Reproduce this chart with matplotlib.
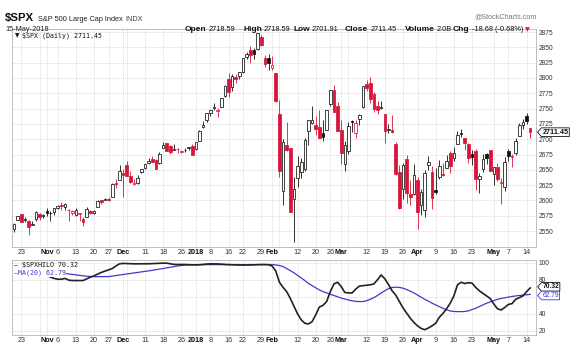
import numpy as np
import pandas as pd
import matplotlib
matplotlib.use('Agg')
import matplotlib.pyplot as plt
from matplotlib.path import Path
from matplotlib.transforms import blended_transform_factory

plt.rcParams['font.family'] = ['Liberation Sans', 'DejaVu Sans']

# ---------------- data ----------------
holidays = ['2017-11-23', '2017-12-25', '2018-01-01', '2018-01-15', '2018-02-19', '2018-03-30']
days = pd.bdate_range('2017-10-19', '2018-05-15')
days = days[~days.isin(pd.to_datetime(holidays))]

prev_close = 2561.26
opens = [2553.4, 2567.6, 2578.1, 2568.7, 2566.5, 2560.1, 2570.3, 2577.8, 2575.0,
         2583.2, 2579.5, 2581.9, 2587.5, 2592.1, 2588.7, 2584.0, 2580.2, 2576.5, 2577.8,
         2569.4, 2572.9, 2582.9, 2579.5, 2589.2, 2600.3, 2600.4, 2602.7, 2605.9, 2627.8, 2633.9,
         2645.1, 2657.2, 2639.8, 2626.2, 2628.4, 2646.2, 2652.2, 2661.7, 2667.6, 2665.9,
         2660.6, 2685.9, 2694.0, 2688.2, 2683.0, 2684.2, 2679.1, 2682.1, 2686.1, 2689.1,
         2683.7, 2697.9, 2719.3, 2731.3, 2742.7, 2751.2, 2745.6, 2753.0, 2770.2, 2799.0,
         2785.0, 2802.4, 2802.6, 2809.2, 2835.0, 2845.4, 2846.2, 2847.5, 2867.2, 2832.7,
         2832.4, 2816.5, 2808.9, 2741.1, 2614.8, 2691.0, 2685.0, 2601.8, 2636.7, 2646.3,
         2651.2, 2713.5, 2727.1, 2723.0, 2720.5, 2710.4, 2715.8, 2757.4, 2780.5, 2753.8,
         2715.2, 2658.9, 2681.1, 2730.2, 2710.2, 2732.7, 2752.9, 2790.5, 2792.3, 2774.1,
         2754.3, 2750.6, 2741.4, 2715.0, 2715.0, 2691.4, 2646.7, 2619.4, 2667.6, 2611.3,
         2610.4, 2633.4, 2592.2, 2584.0, 2657.4, 2645.8, 2617.2, 2638.4, 2643.0, 2653.8,
         2676.9, 2670.1, 2692.7, 2710.1, 2701.2, 2692.6, 2675.4, 2680.8, 2634.9, 2651.6,
         2675.5, 2682.5, 2643.0, 2654.2, 2628.1, 2621.4, 2680.3, 2670.3, 2678.1, 2705.0,
         2722.7, 2738.5, 2718.6]
highs = [2562.4, 2575.4, 2578.3, 2572.2, 2567.4, 2567.1, 2583.0, 2580.0, 2578.1,
         2588.4, 2582.8, 2588.4, 2593.4, 2597.0, 2595.5, 2586.5, 2583.8, 2587.7, 2579.7,
         2572.8, 2590.1, 2584.0, 2584.6, 2601.2, 2600.9, 2604.2, 2606.4, 2627.7, 2634.9, 2657.7,
         2650.6, 2665.2, 2648.7, 2634.4, 2641.0, 2651.6, 2660.3, 2669.7, 2671.9, 2668.1,
         2679.6, 2695.0, 2694.2, 2691.0, 2692.6, 2685.3, 2682.7, 2685.6, 2687.7, 2692.1,
         2695.9, 2714.4, 2729.3, 2743.5, 2748.5, 2759.1, 2750.8, 2767.6, 2787.9, 2807.5,
         2807.0, 2805.8, 2810.3, 2833.0, 2842.2, 2853.0, 2848.6, 2872.9, 2870.6, 2837.8,
         2839.3, 2836.0, 2808.9, 2763.4, 2701.0, 2727.7, 2685.3, 2638.7, 2672.6, 2668.8,
         2702.1, 2731.5, 2754.4, 2737.6, 2747.8, 2731.3, 2747.8, 2780.0, 2789.1, 2761.5,
         2730.9, 2696.3, 2728.1, 2732.1, 2730.6, 2740.5, 2786.6, 2797.0, 2801.9, 2777.1,
         2763.0, 2761.8, 2741.4, 2724.2, 2739.1, 2695.7, 2657.7, 2661.4, 2674.8, 2632.6,
         2659.1, 2638.3, 2619.1, 2649.9, 2672.1, 2656.9, 2653.5, 2665.4, 2661.4, 2674.7,
         2680.3, 2686.5, 2713.3, 2717.5, 2702.8, 2693.9, 2682.9, 2683.5, 2645.3, 2676.5,
         2677.3, 2682.9, 2655.3, 2660.9, 2637.1, 2670.9, 2683.3, 2676.3, 2701.3, 2726.1,
         2732.9, 2742.1, 2718.6]
lows = [2547.9, 2567.6, 2564.3, 2565.6, 2544.0, 2559.8, 2565.9, 2568.7, 2572.1,
        2574.9, 2566.2, 2576.8, 2585.7, 2584.1, 2585.0, 2566.3, 2575.6, 2574.5, 2566.6,
        2557.5, 2572.9, 2577.6, 2578.2, 2589.2, 2593.8, 2600.4, 2598.9, 2605.4, 2620.3, 2633.9,
        2605.5, 2639.3, 2627.7, 2624.8, 2626.5, 2644.1, 2651.5, 2659.8, 2662.8, 2652.0,
        2659.1, 2685.9, 2680.7, 2676.1, 2682.4, 2678.1, 2678.0, 2678.9, 2682.7, 2673.6,
        2682.4, 2697.8, 2719.1, 2727.9, 2737.6, 2747.9, 2736.1, 2752.8, 2769.6, 2768.6,
        2778.4, 2792.6, 2798.1, 2808.1, 2830.6, 2824.8, 2830.9, 2846.2, 2851.5, 2818.3,
        2813.0, 2812.7, 2760.0, 2638.2, 2593.1, 2681.3, 2580.6, 2532.7, 2622.4, 2637.1,
        2648.9, 2689.8, 2725.1, 2706.8, 2701.3, 2697.8, 2715.8, 2753.8, 2744.2, 2713.5,
        2659.7, 2647.3, 2675.7, 2711.3, 2701.7, 2722.6, 2751.5, 2779.3, 2758.7, 2744.4,
        2741.5, 2750.0, 2694.6, 2710.0, 2709.8, 2641.6, 2585.9, 2601.8, 2596.1, 2593.1,
        2609.7, 2553.8, 2575.5, 2573.6, 2649.6, 2586.3, 2610.8, 2635.8, 2639.2, 2653.8,
        2645.0, 2665.2, 2692.0, 2703.6, 2681.9, 2660.6, 2658.0, 2617.3, 2612.7, 2647.2,
        2659.0, 2648.0, 2625.4, 2631.7, 2594.6, 2615.3, 2664.7, 2655.2, 2674.1, 2704.5,
        2717.5, 2725.5, 2701.9]
closes = [2562.1, 2575.2, 2565.0, 2569.1, 2557.2, 2560.4, 2581.1, 2572.8, 2575.3,
          2579.4, 2579.9, 2587.8, 2591.1, 2590.6, 2594.4, 2584.6, 2582.3, 2584.8, 2578.9,
          2564.6, 2585.6, 2578.8, 2582.1, 2599.0, 2597.1, 2602.4, 2601.4, 2627.0, 2626.1, 2647.6,
          2642.2, 2639.4, 2629.6, 2629.3, 2637.0, 2651.5, 2660.0, 2664.1, 2662.8, 2652.0,
          2675.8, 2690.2, 2681.5, 2679.2, 2684.6, 2683.3, 2680.5, 2682.6, 2687.5, 2673.6,
          2695.8, 2713.1, 2724.0, 2743.2, 2747.7, 2751.3, 2748.2, 2767.6, 2786.2, 2776.4,
          2802.6, 2798.0, 2810.3, 2833.0, 2839.1, 2837.5, 2839.2, 2872.9, 2853.5, 2822.4,
          2823.8, 2822.0, 2762.1, 2648.9, 2695.1, 2681.7, 2581.0, 2619.5, 2656.0, 2662.9,
          2698.6, 2731.2, 2732.2, 2716.3, 2701.3, 2704.0, 2747.3, 2779.6, 2744.3, 2713.8,
          2677.7, 2691.3, 2720.9, 2728.1, 2726.8, 2739.0, 2786.6, 2783.0, 2765.3, 2749.5,
          2747.3, 2752.0, 2712.9, 2716.9, 2711.9, 2643.7, 2588.3, 2658.5, 2612.6, 2605.0,
          2640.9, 2581.9, 2614.4, 2644.7, 2662.8, 2604.5, 2613.2, 2656.9, 2642.2, 2664.0,
          2656.3, 2677.8, 2706.4, 2708.6, 2693.1, 2670.1, 2670.3, 2634.6, 2639.4, 2666.9,
          2669.9, 2648.0, 2654.8, 2635.7, 2629.7, 2663.4, 2672.6, 2671.9, 2697.8, 2723.1,
          2727.7, 2730.1, 2711.45]

# $SPXHILO and its MA(20), from 1-Nov-2017
hilo = [85, 83, 81.5, 80.5, 80.5, 81.5, 79.5, 79, 79, 79, 79, 81, 83, 84.5, 86.5, 88.5,
        90, 91.5, 93, 96, 98.5, 99, 98.8, 98.5, 98.5, 98.5, 98.5, 98.5, 98.6, 98.8, 99,
        99.2, 99.3, 99.3, 98.5, 97.8, 97.7, 97.7, 97.7, 97.5, 97.3, 97.2, 97.5, 97.8, 98.3,
        98.5, 98.5, 98.4, 98.2, 97.8, 97.6, 97.3, 97.1, 97.1, 97.0, 97.2, 97.2, 97.4, 97.6,
        97.7, 97.7, 97.5, 96, 90, 77, 71, 66, 58, 49, 40, 33, 29, 28.2, 31, 39, 48, 50,
        54.5, 66, 75, 77, 72, 65, 64.5, 64.5, 69, 72.5, 73, 73.5, 74, 75, 80, 85.5, 81,
        74.5, 67, 62, 54.5, 47, 41, 35, 30, 26, 23, 21.5, 23.5, 26, 29, 36, 40.5, 46, 52.5,
        61, 74, 77, 75.5, 76.5, 76, 71, 67, 64, 61, 58, 51.5, 46, 44.5, 47.5, 51, 52, 57,
        59, 61, 66, 70.32]
hilo_ma = [89.5, 89, 88.5, 88, 87.7, 87.3, 86.7, 86.2, 85.6, 85, 84.5, 84, 83.7, 83.5,
           83.5, 83.5, 83.5, 83.6, 84.2, 84.8, 85.4, 86, 86.6, 87.2, 87.8, 88.4, 89, 89.6,
           90.2, 90.9, 91.6, 92.3, 93, 93.7, 94.5, 95.3, 96, 96.6, 97, 97.3, 97.5, 97.6,
           97.6, 97.6, 97.6, 97.6, 97.7, 97.7, 97.7, 97.7, 97.7, 97.7, 97.7, 97.7, 97.7,
           97.7, 97.7, 97.7, 97.7, 97.7, 97.7, 97.7, 97.6, 97.3, 96.5, 95.3, 93, 90.5, 88,
           85, 82, 79, 75.5, 73, 70.5, 68, 66, 64.5, 63, 61.5, 60, 58.5, 57.3, 56.3, 55.3,
           54.6, 54.4, 54.4, 55.5, 57, 59, 61.5, 64.5, 67, 69.5, 70.8, 71.2, 71, 70, 68.5,
           66.5, 64.5, 62, 59.5, 57, 55, 52.5, 50.5, 48.5, 46.5, 44.8, 43.4, 42.8, 42.6,
           42.6, 42.8, 43.5, 45, 46.6, 48.5, 50.5, 52.5, 54, 55.5, 57, 58, 58.8, 59.6, 60.4,
           61, 61.5, 62, 62.4, 62.79]

tick_dates = ['2017-10-23', '2017-11-01', '2017-11-06', '2017-11-13', '2017-11-20', '2017-11-27',
              '2017-12-01', '2017-12-11', '2017-12-18', '2017-12-26', '2018-01-02', '2018-01-08',
              '2018-01-16', '2018-01-22', '2018-01-29', '2018-02-01', '2018-02-12', '2018-02-20',
              '2018-02-26', '2018-03-01', '2018-03-12', '2018-03-19', '2018-03-26', '2018-04-02',
              '2018-04-09', '2018-04-16', '2018-04-23', '2018-05-01', '2018-05-07', '2018-05-14']
tick_labels = ['23', 'Nov', '6', '13', '20', '27', 'Dec', '11', '18', '26', '2018', '8', '16',
               '22', '29', 'Feb', '12', '20', '26', 'Mar', '12', '19', '26', 'Apr', '9', '16',
               '23', 'May', '7', '14']
extra_grid_dates = ['2017-10-30', '2017-12-04', '2018-02-05', '2018-03-05']

# lower panel scale (the 60 label sits under the value tags)
hilo_ticks = [20, 40, 60, 80, 100]
hilo_tick_labels = ['20', '40', '', '80', '100']

# header quote line: (key, value, x position of key in px)
quote = [('Open', '2718.59', 185), ('High', '2718.59', 243), ('Low', '2701.91', 293),
         ('Close', '2711.45', 345), ('Volume', '2.0B', 405), ('Chg', '-18.68 (-0.68%)', 453)]

# ---------------- layout ----------------
RED = '#d8143a'
BLUE = '#3c3cc8'
GRID = '#d9d9d9'
W, H = 582, 354

def fx(px):
    return px / W

def fy(py):
    return 1 - py / H

fig = plt.figure(figsize=(W / 100, H / 100), dpi=100)
ax = fig.add_axes([fx(12.3), fy(247), fx(536) - fx(12.3), fy(29) - fy(247)])
ax2 = fig.add_axes([fx(12.3), fy(335), fx(536) - fx(12.3), fy(260) - fy(335)])

opens, highs, lows, closes = map(np.array, (opens, highs, lows, closes))
x = np.arange(len(closes))
pos = {d: i for i, d in enumerate(days)}
tick_pos = [pos[pd.Timestamp(d)] for d in tick_dates]
grid_pos = sorted(tick_pos + [pos[pd.Timestamp(d)] for d in extra_grid_dates])

for a in (ax, ax2):
    a.set_xlim(-0.5, 143.6)
    for s in a.spines.values():
        s.set_color('#b4b4b4')
        s.set_linewidth(0.6)
    for g in grid_pos:
        a.axvline(g, color=GRID, lw=0.5, ls=(0, (2, 1)), zorder=0)
    a.set_xticks(tick_pos)
    a.set_xticklabels(tick_labels)
    a.tick_params(axis='x', length=0, pad=1.5, labelsize=5.2, labelcolor='#333333')
    for lab in a.get_xticklabels():
        if not lab.get_text().isdigit() or lab.get_text() == '2018':
            lab.set_fontweight('bold')
            lab.set_color('#111111')
    a.yaxis.tick_right()
    a.tick_params(axis='y', length=0, pad=2, labelsize=4.8, labelcolor='#333333')

# ---------------- price candles ----------------
prev = np.r_[prev_close, closes[:-1]]
cols = np.where(closes < prev, RED, '#111111')
faces = np.where(closes > opens, 'white', cols)
body_lo = np.minimum(opens, closes)
body_h = np.maximum(np.abs(closes - opens), 0.8)
ax.vlines(x, lows, highs, colors=cols, lw=0.6, zorder=2)
ax.bar(x, body_h, bottom=body_lo, width=0.72, color=faces, edgecolor=cols,
       linewidth=0.55, zorder=3)

yt = np.arange(2550, 2876, 25)
for v in yt:
    ax.axhline(v, color=GRID, lw=0.5, ls=(0, (2, 1)), zorder=0)
ax.set_yticks(yt)
ax.set_ylim(2524, 2880)

# ---------------- hi-lo panel ----------------
xh = x[len(x) - len(hilo):]
ax2.plot(xh, hilo_ma, color=BLUE, lw=0.9, zorder=3)
ax2.plot(xh, hilo, color='#222222', lw=1.2, zorder=4)
for v in hilo_ticks:
    ax2.axhline(v, color=GRID, lw=0.5, ls=(0, (2, 1)), zorder=0)
ax2.set_yticks(hilo_ticks)
ax2.set_yticklabels(hilo_tick_labels)
ax2.set_ylim(15.3, 103)


def tag_box(x0, y0, width, height, mutation_size):
    pad = 0.12 * mutation_size
    x0, y0 = x0 - pad, y0 - pad
    width, height = width + 2 * pad, height + 2 * pad
    tip = height * 0.45
    verts = [(x0 - tip, y0 + height / 2), (x0, y0), (x0 + width, y0),
             (x0 + width, y0 + height), (x0, y0 + height), (x0 - tip, y0 + height / 2)]
    return Path(verts, closed=True)


def value_tag(a, v, txt, color, bold=False, size=5.2):
    tr = blended_transform_factory(a.transAxes, a.transData)
    a.text(1.012, v, txt, transform=tr, ha='left', va='center', fontsize=size,
           fontweight='bold' if bold else 'normal', color=color, zorder=10, clip_on=False,
           bbox=dict(boxstyle=tag_box, fc='white', ec=color, lw=0.6))


value_tag(ax, closes[-1], '2711.45', '#111111', bold=True)
value_tag(ax2, hilo[-1] + 1.3, '70.32', '#111111', bold=True, size=4.8)
value_tag(ax2, hilo_ma[-1] - 1.3, '62.79', BLUE, size=4.8)

# ---------------- header ----------------
fig.text(fx(5), fy(21), '$SPX', fontsize=8.2, fontweight='bold', color='#111111')
fig.text(fx(38), fy(21), 'S&P 500 Large Cap Index', fontsize=5.3, color='#222222')
fig.text(fx(125), fy(21), 'INDX', fontsize=5.3, color='#444444')
fig.text(fx(5), fy(31), '15-May-2018', fontsize=5.3, color='#222222')
fig.text(fx(537), fy(18), '@StockCharts.com', fontsize=5.2, color='#777777', ha='right')

renderer = fig.canvas.get_renderer()
for key, val, kx in quote:
    t = fig.text(fx(kx), fy(31), key, fontsize=6.0, fontweight='bold', color='#111111')
    bb = t.get_window_extent(renderer)
    t2 = fig.text(fx(bb.x1 + 2.2), fy(31), val, fontsize=5.3, color='#111111')
    end = t2.get_window_extent(renderer).x1
fig.text(fx(end + 2), fy(31), '\u25bc', fontsize=4.5, color=RED, family='DejaVu Sans')

# in-panel legends
fig.text(fx(15), fy(37.5), '\u25bc', fontsize=4.2, color='#111111', family='DejaVu Sans')
fig.text(fx(22), fy(37.5), '$SPX (Daily) 2711.45', fontsize=4.8, color='#111111',
         family='DejaVu Sans Mono')
fig.text(fx(14), fy(266.5), '\u2014 $SPXHILO 70.32', fontsize=4.8, color='#111111',
         family='DejaVu Sans Mono', zorder=10)
fig.text(fx(14), fy(275), '\u2014MA(20) 62.79', fontsize=4.8, color=BLUE,
         family='DejaVu Sans Mono', zorder=10,
         bbox=dict(boxstyle='square,pad=0.05', fc='white', ec='none'))

fig.savefig('out.png', dpi=100)
